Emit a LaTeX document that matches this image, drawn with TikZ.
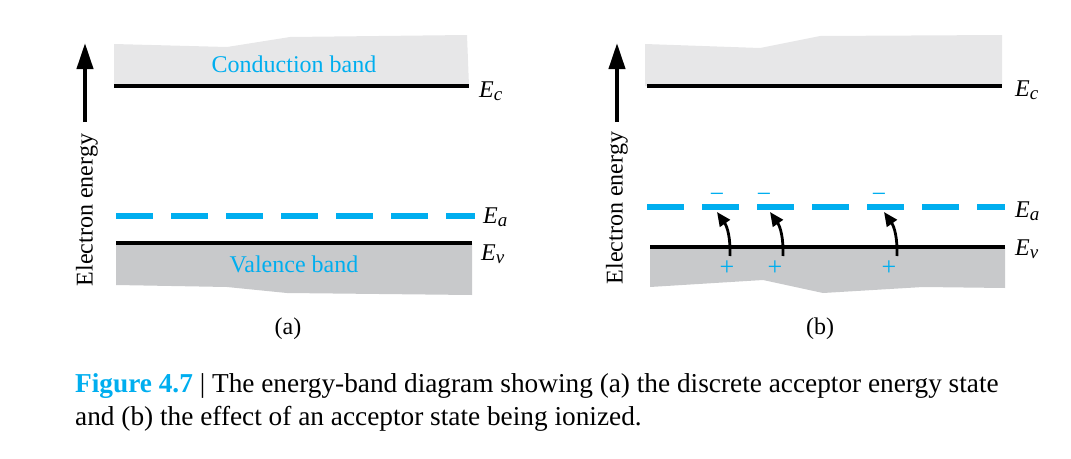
\documentclass[tikz,border=0pt]{standalone}
\usepackage{fontspec}
\setmainfont{Liberation Serif}
\usetikzlibrary{arrows.meta}
\definecolor{bandblue}{RGB}{0,174,239}
\definecolor{condgray}{RGB}{231,231,232}
\definecolor{valgray}{RGB}{200,201,203}
\newcommand{\lev}[1]{\textit{E}\raisebox{-0.3ex}{\fontsize{19}{19}\selectfont\textit{#1}}}

\begin{document}
\begin{tikzpicture}[x=1pt,y=-1pt]
\tikzstyle{every node}+=[inner sep=0pt, font=\fontsize{24}{28}\selectfont]
\tikzstyle{level}=[line width=3.5pt]
\tikzstyle{acceptor}=[bandblue, line width=6pt, dash pattern=on 37pt off 18pt]
\tikzstyle{hop}=[line width=2.8pt, -{Triangle[length=14pt,width=12pt]}]
\tikzstyle{axis}=[line width=4pt, -{Triangle[length=26pt,width=16pt]}]
\tikzstyle{sign}=[bandblue, font=\fontsize{26}{26}\selectfont]
\tikzstyle{caption}=[anchor=base west, font=\fontsize{27.3}{30}\selectfont]
\useasboundingbox (0,0) rectangle (1071,458);

% (a) discrete acceptor state
\fill [condgray] (114,86) -- (114,44) -- (227,47) -- (290,37) -- (467,35) -- (469,86) -- cycle;
\fill [valgray] (116,243) -- (116,285) -- (227,287) -- (287,293) -- (472,295) -- (472,243) -- cycle;
\draw [level] (114,86) -- (469,86);
\draw [level] (116,243) -- (472,243);
\draw [acceptor] (116,216) -- (475,216);
\draw [axis] (85,122) -- (85,43);
\node [rotate=90] (energy-a) at (87,210) {Electron energy};
\node [bandblue] (cb-a) at (294,64) {Conduction band};
\node [bandblue] (vb-a) at (294,264) {Valence band};
\node [anchor=base west] (Ec-a) at (479,97) {\lev{c}};
\node [anchor=base west] (Ea-a) at (483,223) {\lev{a}};
\node [anchor=base west] (Ev-a) at (481,260) {\lev{v}};
\node (tag-a) at (288,329) {(a)};

% (b) ionized acceptor states
\fill [condgray] (645,86) -- (645,44) -- (760,48) -- (820,36) -- (1002,35) -- (1002,86) -- cycle;
\fill [valgray] (650,247) -- (650,287) -- (763,280) -- (823,293) -- (923,287) -- (1005,288) -- (1005,247) -- cycle;
\draw [level] (647,86) -- (1002,86);
\draw [level] (650,247) -- (1005,247);
\draw [acceptor] (647,207) -- (1005,207);
\draw [axis] (617,122) -- (617,43);
\node [rotate=90] (energy-b) at (617,208) {Electron energy};
\node [anchor=base west] (Ec-b) at (1015,96) {\lev{c}};
\node [anchor=base west] (Ea-b) at (1015,217) {\lev{a}};
\node [anchor=base west] (Ev-b) at (1015,255) {\lev{v}};
\node (tag-b) at (820,329) {(b)};

\node [sign] (minus1) at (717,198) {−};
\node [sign] (minus2) at (764,198) {−};
\node [sign] (minus3) at (879,198) {−};
\node [sign] (plus1) at (727,268) {+};
\node [sign] (plus2) at (775,268) {+};
\node [sign] (plus3) at (889,268) {+};

\coordinate (hole1) at (730,256);
\coordinate (hole2) at (783,256);
\coordinate (hole3) at (897,256);
\coordinate (acc1) at (717,212);
\coordinate (acc2) at (770,212);
\coordinate (acc3) at (884,212);
\draw [hop] (hole1) to[out=88,in=-55] (acc1);
\draw [hop] (hole2) to[out=88,in=-55] (acc2);
\draw [hop] (hole3) to[out=88,in=-55] (acc3);

% caption
\node [caption] (cap1) at (75,392) {{\color{bandblue}\bfseries Figure 4.7} | The energy-band diagram showing (a) the discrete acceptor energy state};
\node [caption] (cap2) at (75,425) {and (b) the effect of an acceptor state being ionized.};
\end{tikzpicture}
\end{document}
